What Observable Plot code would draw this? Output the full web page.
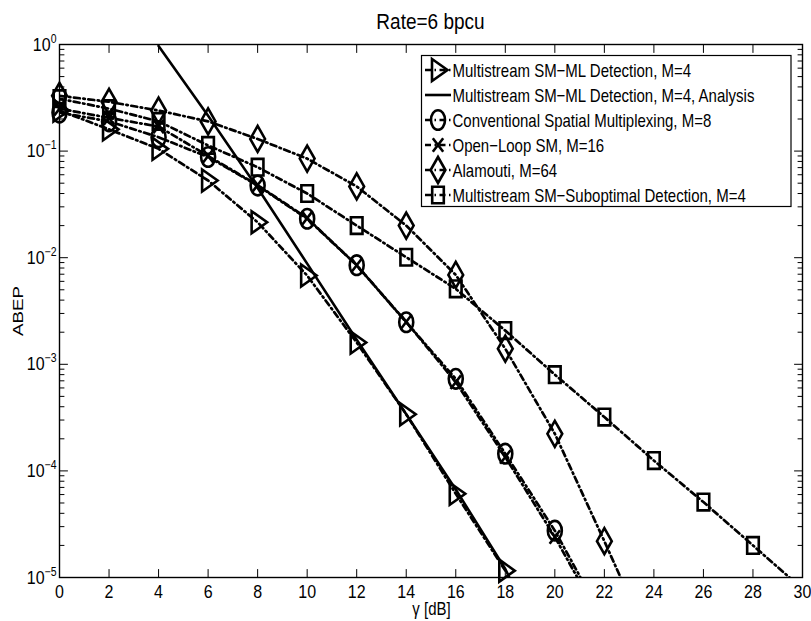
<!DOCTYPE html>
<html><head><meta charset="utf-8">
<script src="https://cdn.jsdelivr.net/npm/d3@7"></script>
<script src="https://cdn.jsdelivr.net/npm/@observablehq/plot@0.6"></script>
<style>
body{margin:0;background:#fff;}
#wrap{position:relative;width:811px;height:621px;font-family:"Liberation Sans",Arial,Helvetica,sans-serif;color:#000;background:#fff;}
#wrap svg{position:absolute;left:0;top:0;}
</style></head><body><div id="wrap"></div><script>
// ---- data ----
const snrML = [0,2,4,6,8,10,12,14,16,18];
const abepML = [0.24,0.16,0.105,0.053,0.0215,0.0068,0.0016,0.00034,0.000061,0.0000116];
const snrAnalysis = [4,6,8,10,12,14,16,18,20];
const abepAnalysis = [0.97,0.215,0.045,0.0088,0.0017,0.00034,0.000067,0.000012,0.0000013];
const snrConv = [0,2,4,6,8,10,12,14,16,18,20,22];
const abepConv = [0.23,0.19,0.135,0.088,0.0475,0.0232,0.0085,0.00248,0.00073,0.000145,0.0000275,0.0000039];
const snrOL = [0,2,4,6,8,10,12,14,16,18,20,22];
const abepOL = [0.25,0.205,0.17,0.09,0.048,0.0235,0.0085,0.0025,0.00068,0.000135,0.000024,0.0000035];
const snrAla = [0,2,4,6,8,10,12,14,16,18,20,22,24];
const abepAla = [0.33,0.29,0.24,0.19,0.13,0.085,0.0466,0.020,0.0069,0.0014,0.000223,0.0000219,0.000002];
const snrSub = [0,2,4,6,8,10,12,14,16,18,20,22,24,26,28,30];
const abepSub = [0.31,0.25,0.19,0.113,0.0706,0.040,0.020,0.0101,0.0051,0.00207,0.0008,0.00032,0.000125,0.000051,0.00002,0.0000078];
const xTicks = [0,2,4,6,8,10,12,14,16,18,20,22,24,26,28,30];
const yTicks = [1e-5,1e-4,1e-3,1e-2,1e-1,1];
const seriesNames = [
  "Multistream SM\u2212ML Detection, M=4",
  "Multistream SM\u2212ML Detection, M=4, Analysis",
  "Conventional Spatial Multiplexing, M=8",
  "Open\u2212Loop SM, M=16",
  "Alamouti, M=64",
  "Multistream SM\u2212Suboptimal Detection, M=4"
];
const titleText = "Rate=6 bpcu";
const xLabel = "\u03b3 [dB]";
const yLabel = "ABEP";

// ---- helpers ----
const rows = (xs, ys) => xs.map((x, i) => ({x, y: ys[i]}));
const yMinor = [];
for (let e = -5; e < 0; e++) for (let k = 2; k <= 9; k++) yMinor.push(k * Math.pow(10, e));

const KAPPA = 0.5523;
function ellipse(c, rx, ry) {
  c.moveTo(rx, 0);
  c.bezierCurveTo(rx, ry*KAPPA, rx*KAPPA, ry, 0, ry);
  c.bezierCurveTo(-rx*KAPPA, ry, -rx, ry*KAPPA, -rx, 0);
  c.bezierCurveTo(-rx, -ry*KAPPA, -rx*KAPPA, -ry, 0, -ry);
  c.bezierCurveTo(rx*KAPPA, -ry, rx, -ry*KAPPA, rx, 0);
  c.closePath();
}
const SYM = {
  tri: {draw(c){ c.moveTo(-6,-11); c.lineTo(9.5,0); c.lineTo(-6,11); c.closePath(); }},
  circ: {draw(c){ ellipse(c, 7, 9.8); }},
  times: {draw(c){ c.moveTo(-5.2,-6.8); c.lineTo(5.2,6.8); c.moveTo(5.2,-6.8); c.lineTo(-5.2,6.8); }},
  diam: {draw(c){ c.moveTo(0,-13); c.lineTo(7.4,0); c.lineTo(0,13); c.lineTo(-7.4,0); c.closePath(); }},
  sq: {draw(c){ c.rect(-5.8,-8.3,11.6,16.6); }}
};
const tickShape = {draw(c, l){ c.moveTo(0,0); c.lineTo(0,-l); }};

const DASH = "6,3.5,1.5,3.5";
const dashdot = {stroke:"black", strokeWidth:2.7, strokeDasharray:DASH, clip:true};
const solid = {stroke:"black", strokeWidth:2.6, clip:true};
const mk = (sym) => ({x:"x", y:"y", symbol: sym, fill:"none", stroke:"black", strokeWidth:2.6, filter: d => d.y >= 1e-5});
const tk = (len, ang, anchor) => ({stroke:"black", strokeWidth:1, length:len, rotate:ang, anchor:"start", frameAnchor:anchor, shape:tickShape});

const chart = Plot.plot({
  width: 811, height: 621,
  marginTop: 44, marginBottom: 44, marginLeft: 59, marginRight: 9,
  x: {domain: [0, 30]},
  y: {type: "log", domain: [1e-5, 1]},
  style: {fontFamily: "'Liberation Sans', Arial, Helvetica, sans-serif", color: "black", background: "white", overflow: "visible"},
  marks: [
    Plot.line(rows(snrML, abepML), {x:"x", y:"y", ...dashdot}),
    Plot.line(rows(snrAnalysis, abepAnalysis), {x:"x", y:"y", ...solid}),
    Plot.line(rows(snrConv, abepConv), {x:"x", y:"y", ...dashdot}),
    Plot.line(rows(snrOL, abepOL), {x:"x", y:"y", ...dashdot}),
    Plot.line(rows(snrAla, abepAla), {x:"x", y:"y", ...dashdot}),
    Plot.line(rows(snrSub, abepSub), {x:"x", y:"y", ...dashdot}),
    Plot.dot(rows(snrML, abepML), mk(SYM.tri)),
    Plot.dot(rows(snrConv, abepConv), mk(SYM.circ)),
    Plot.dot(rows(snrOL, abepOL), mk(SYM.times)),
    Plot.dot(rows(snrAla, abepAla), mk(SYM.diam)),
    Plot.dot(rows(snrSub, abepSub), mk(SYM.sq)),
    Plot.vector(xTicks, {x: d => d, ...tk(8, 0, "bottom")}),
    Plot.vector(xTicks, {x: d => d, ...tk(8, 180, "top")}),
    Plot.vector(yTicks, {y: d => d, ...tk(8, 90, "left")}),
    Plot.vector(yTicks, {y: d => d, ...tk(8, -90, "right")}),
    Plot.vector(yMinor, {y: d => d, ...tk(4.5, 90, "left")}),
    Plot.vector(yMinor, {y: d => d, ...tk(4.5, -90, "right")}),
    Plot.frame({stroke: "black", strokeWidth: 1.4}),
    Plot.axisX(xTicks, {anchor: "bottom", tickSize: 0, tickPadding: 8, fontSize: 16, label: null}),
    Plot.axisY(yTicks, {anchor: "left", tickSize: 0, tickPadding: 3, fontSize: 16, label: null,
      tickFormat: d => "10^" + String(Math.round(Math.log10(d))).replace("-", "\u2212")})
  ]
});
const wrap = document.getElementById("wrap");
wrap.appendChild(chart);

// vertical stretch of text (about its own centre) to match the reference's tall glyphs
function stretch(el, k) {
  const b = el.getBBox();
  const cy = b.y + b.height / 2;
  const t = el.getAttribute("transform") || "";
  el.setAttribute("transform", `${t} translate(0,${cy}) scale(1,${k}) translate(0,${-cy})`);
}
const s = d3.select(chart);
s.selectAll('g[aria-label="y-axis tick label"] text').each(function() {
  const target = this.querySelector("tspan") || this;
  const [b, e] = target.textContent.split("^");
  target.textContent = b;
  const sup = document.createElementNS("http://www.w3.org/2000/svg", "tspan");
  sup.setAttribute("dy", "-7");
  sup.setAttribute("font-size", "10.5px");
  sup.textContent = e;
  this.appendChild(sup);
});
s.selectAll('g[aria-label="y-axis tick label"] text').each(function() { stretch(this, 1.15); });
s.selectAll('g[aria-label="x-axis tick label"] text').each(function() { stretch(this, 1.2); });

// overlay: title, axis labels, legend
const ov = d3.select(wrap).append("svg").attr("width", 811).attr("height", 621)
  .style("font-family", "'Liberation Sans', Arial, Helvetica, sans-serif").style("pointer-events", "none");
ov.append("text").attr("transform", "translate(430.5,29) scale(1,1.15)").attr("text-anchor", "middle")
  .attr("font-size", 19).text(titleText);
ov.append("text").attr("transform", "translate(431.5,615) scale(1,1.25)").attr("text-anchor", "middle")
  .attr("font-size", 15).text(xLabel);
ov.append("text").attr("transform", "translate(18,311) rotate(-90) scale(1.25,1)").attr("text-anchor", "middle")
  .attr("dy", "0.35em").attr("font-size", 15).text(yLabel);

const lg = ov.append("g");
lg.append("rect").attr("x", 421.5).attr("y", 55.5).attr("width", 369.5).attr("height", 151)
  .attr("fill", "white").attr("stroke", "black").attr("stroke-width", 1.2);
const legendSyms = [SYM.tri, null, SYM.circ, SYM.times, SYM.diam, SYM.sq];
seriesNames.forEach((name, i) => {
  const cy = 70 + i * 25;
  const row = lg.append("g").attr("transform", `translate(0,${cy})`);
  const ln = row.append("line").attr("x1", 425).attr("x2", 451).attr("y1", 0).attr("y2", 0)
    .attr("stroke", "black").attr("stroke-width", i === 1 ? 2.6 : 2.7);
  if (i !== 1) ln.attr("stroke-dasharray", DASH);
  const sym = legendSyms[i];
  if (sym) {
    const p = d3.path(); sym.draw(p);
    row.append("path").attr("transform", "translate(438,0)").attr("d", p.toString())
      .attr("fill", "none").attr("stroke", "black").attr("stroke-width", 2.6);
  }
  row.append("text").attr("transform", "translate(452.5,0) scale(1,1.25)").attr("dy", "0.35em")
    .attr("font-size", 15).text(name);
});
</script></body></html>
